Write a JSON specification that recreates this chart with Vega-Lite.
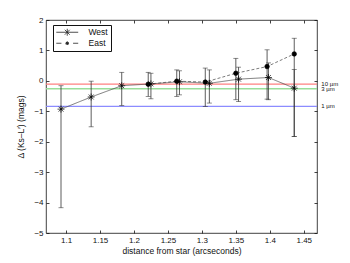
{
  "$schema": "https://vega.github.io/schema/vega-lite/v6.json",
  "width": 271,
  "height": 213,
  "autosize": {"type": "none"},
  "padding": {"left": 46, "top": 20, "right": 33, "bottom": 30},
  "background": "white",
  "config": {
    "font": "Liberation Sans",
    "view": {"stroke": "#111", "strokeWidth": 0.8},
    "axis": {
      "domain": false,
      "grid": false,
      "tickColor": "#111",
      "tickSize": -3,
      "tickWidth": 0.8,
      "labelFontSize": 8,
      "labelColor": "#111",
      "titleFontSize": 8.5,
      "titleFontWeight": "normal",
      "titleColor": "#111"
    }
  },
  "datasets": {
    "pts": [
      {"s": "West", "d": 1.0926, "v": -0.93, "lo": -4.17, "hi": -0.16},
      {"s": "West", "d": 1.137, "v": -0.53, "lo": -1.51, "hi": -0.01},
      {"s": "West", "d": 1.182, "v": -0.16, "lo": -0.81, "hi": 0.28},
      {"s": "West", "d": 1.225, "v": -0.1, "lo": -0.59, "hi": 0.25},
      {"s": "West", "d": 1.267, "v": -0.03, "lo": -0.46, "hi": 0.33},
      {"s": "West", "d": 1.311, "v": -0.08, "lo": -0.73, "hi": 0.36},
      {"s": "West", "d": 1.354, "v": 0.056, "lo": -0.68, "hi": 0.45},
      {"s": "West", "d": 1.398, "v": 0.11, "lo": -0.62, "hi": 0.59},
      {"s": "West", "d": 1.436, "v": -0.24, "lo": -1.83, "hi": 0.37},
      {"s": "East", "d": 1.221, "v": -0.11, "lo": -0.51, "hi": 0.28},
      {"s": "East", "d": 1.263, "v": -0.01, "lo": -0.51, "hi": 0.36},
      {"s": "East", "d": 1.305, "v": -0.04, "lo": -0.84, "hi": 0.42},
      {"s": "East", "d": 1.35, "v": 0.25, "lo": -0.62, "hi": 0.74},
      {"s": "East", "d": 1.396, "v": 0.47, "lo": -0.6, "hi": 1.02},
      {"s": "East", "d": 1.436, "v": 0.885, "lo": -1.83, "hi": 1.4}
    ],
    "ref": [
      {"name": "10 µm", "v": -0.11},
      {"name": "3 µm", "v": -0.26},
      {"name": "1 µm", "v": -0.84}
    ]
  },
  "layer": [
    {
      "data": {"name": "ref"},
      "mark": {"type": "rule", "strokeWidth": 1.3},
      "encoding": {
        "y": {"field": "v", "type": "quantitative", "scale": {"domain": [-5, 2], "nice": false},
              "axis": {"orient": "right", "labels": false, "title": null, "values": [-5, -4, -3, -2, -1, 0, 1, 2]}},
        "color": {"field": "name", "type": "nominal",
                  "scale": {"domain": ["10 µm", "3 µm", "1 µm"], "range": ["#ff8080", "#99dd99", "#8c8cff"]},
                  "legend": null}
      }
    },
    {
      "data": {"name": "ref"},
      "mark": {"type": "text", "align": "left", "baseline": "middle", "fontSize": 6, "dx": 4, "color": "#111"},
      "encoding": {
        "x": {"datum": 1.47, "type": "quantitative", "axis": null},
        "y": {"field": "v", "type": "quantitative", "axis": null},
        "text": {"field": "name"}
      }
    },
    {
      "data": {"name": "pts"},
      "mark": {"type": "errorbar", "color": "#333", "thickness": 0.8, "ticks": {"size": 5, "thickness": 0.8}},
      "encoding": {
        "x": {"field": "d", "type": "quantitative", "scale": {"domain": [1.0705, 1.4695], "nice": false, "zero": false},
              "axis": {"orient": "bottom", "title": "distance from star (arcseconds)", "values": [1.1, 1.15, 1.2, 1.25, 1.3, 1.35, 1.4, 1.45], "format": ".2~f", "labelPadding": 6, "titlePadding": 2}},
        "y": {"field": "lo", "type": "quantitative", "scale": {"domain": [-5, 2], "nice": false, "zero": false},
              "axis": {"orient": "left", "title": "Δ (Ks–L′) (mags)", "values": [-5, -4, -3, -2, -1, 0, 1, 2], "format": "d", "labelPadding": 6, "titlePadding": 8}},
        "y2": {"field": "hi"}
      }
    },
    {
      "data": {"name": "pts"},
      "mark": {"type": "line", "color": "#444", "strokeWidth": 0.7},
      "encoding": {
        "x": {"field": "d", "type": "quantitative",
              "axis": {"orient": "top", "labels": false, "title": null, "values": [1.1, 1.15, 1.2, 1.25, 1.3, 1.35, 1.4, 1.45]}},
        "y": {"field": "v", "type": "quantitative", "axis": null},
        "strokeDash": {"field": "s", "type": "nominal", "scale": {"domain": ["East", "West"], "range": [[3, 2], [1, 0]]}, "legend": null}
      }
    },
    {
      "data": {"name": "pts"},
      "mark": {"type": "point", "filled": true, "fill": "#000", "stroke": "#000", "strokeWidth": 0.7, "opacity": 1, "size": 20},
      "encoding": {
        "x": {"field": "d", "type": "quantitative", "axis": null},
        "y": {"field": "v", "type": "quantitative", "axis": null},
        "shape": {"field": "s", "type": "nominal",
                  "scale": {"domain": ["East", "West"], "range": ["circle", "M-1.56,0L1.56,0M0,-1.56L0,1.56M-1.1,-1.1L1.1,1.1M-1.1,1.1L1.1,-1.1"]},
                  "legend": null}
      }
    },
    {
      "data": {"name": "pts"},
      "mark": {"type": "point", "filled": false, "color": "#222", "strokeWidth": 0.8, "opacity": 0, "size": 20},
      "encoding": {
        "x": {"field": "d", "type": "quantitative", "axis": null},
        "y": {"field": "v", "type": "quantitative", "axis": null},
        "shape": {"field": "s", "type": "nominal",
                  "scale": {"domain": ["West", "East"], "range": [
                    "M-4.9,0L4.9,0M0,-1.56L0,1.56M-1.1,-1.1L1.1,1.1M-1.1,1.1L1.1,-1.1",
                    "M-4.9,0L-2.6,0M2.6,0L4.9,0M-0.75,0L0.75,0M0,-0.75L0,0.75M-0.53,-0.53L0.53,0.53M-0.53,0.53L0.53,-0.53M-0.55,0A0.55,0.55,0,1,0,0.55,0A0.55,0.55,0,1,0,-0.55,0Z"]},
                  "legend": {
                    "orient": "none", "legendX": 7, "legendY": 5, "title": null,
                    "strokeColor": "#111", "fillColor": "white", "padding": 3,
                    "labelFontSize": 8.5, "labelColor": "#111", "labelOffset": 17,
                    "symbolOffset": 7, "symbolSize": 20, "rowPadding": 1,
                    "symbolOpacity": 1, "symbolStrokeColor": "#222", "symbolStrokeWidth": 0.8
                  }}
      }
    }
  ],
  "resolve": {"axis": {"x": "independent", "y": "independent"}, "scale": {"shape": "independent"}}
}
